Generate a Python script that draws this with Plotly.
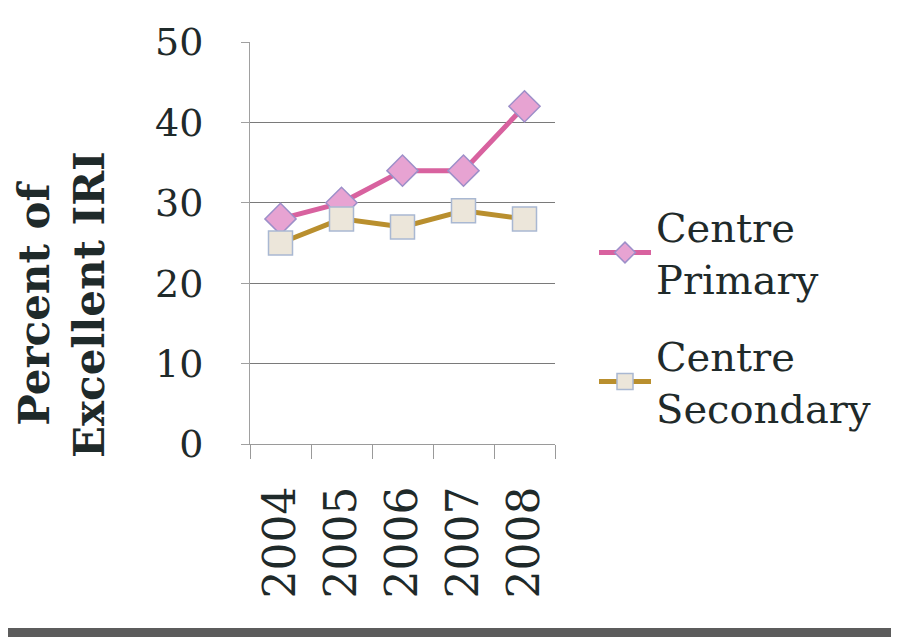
import plotly.graph_objects as go

years = ["2004", "2005", "2006", "2007", "2008"]
primary = [28, 30, 34, 34, 42]
secondary = [25, 28, 27, 29, 28]
y_ticks = [0, 10, 20, 30, 40, 50]

SERIF = "'DejaVu Serif', 'Liberation Serif', serif"
INK = "#1f2a2a"

fig = go.Figure()
fig.add_trace(go.Scatter(
    x=years, y=primary, name="Centre<br>Primary", mode="lines+markers",
    legendgroup="p",
    line=dict(color="#d8629f", width=5),
    marker=dict(symbol="diamond", size=24, color="#e7a3d2",
                line=dict(color="#9d8fc9", width=1.5)),
))
fig.add_trace(go.Scatter(
    x=years, y=secondary, name="Centre<br>Secondary", mode="lines+markers",
    legendgroup="s",
    line=dict(color="#b98f2e", width=5),
    marker=dict(symbol="square", size=24, color="#ece6da",
                line=dict(color="#a9b8d2", width=1.5)),
))

# figure sits 8px in from the page corner (body margin)
W, H = 891, 629
L, T = 242, 34
R = W - (555 - 8)
B = H - (444 - 8)
pw = W - L - R
ph = H - T - B

def px_x(x):
    return (x - 8 - L) / pw

def px_y(y):
    return (H - B - (y - 8)) / ph

fig.update_layout(
    width=W, height=H,
    margin=dict(l=L, r=R, t=T, b=B),
    paper_bgcolor="#ffffff", plot_bgcolor="#ffffff",
    font=dict(family=SERIF, color=INK),
    showlegend=True,
    legend=dict(x=px_x(594), y=px_y(194), xanchor="left", yanchor="top",
                font=dict(size=40, family=SERIF, color=INK),
                bgcolor="rgba(0,0,0,0)", tracegroupgap=22,
                traceorder="grouped", itemwidth=52),
    xaxis=dict(type="category", tickangle=-90, tickfont=dict(size=44, family=SERIF, color=INK),
               showgrid=False, showline=True, linecolor="#9a9a9a", linewidth=1,
               ticks="outside", tickson="boundaries", ticklen=14, tickcolor="#9a9a9a",
               range=[-0.5, 4.5], ticklabelstandoff=24),
    yaxis=dict(range=[0, 50], tickvals=y_ticks, tickfont=dict(size=38, family=SERIF, color=INK),
               showgrid=True, gridcolor="#7a7a7a", gridwidth=1,
               showline=True, linecolor="#a0a0a0", linewidth=1,
               ticks="outside", ticklen=8, tickcolor="#a0a0a0",
               zeroline=False, ticklabelstandoff=30),
    annotations=[dict(
        text="<b>Percent of<br>Excellent IRI</b>", textangle=-90,
        xref="paper", yref="paper", x=px_x(62), y=px_y(305),
        xanchor="center", yanchor="middle",
        showarrow=False, font=dict(size=42, family=SERIF, color=INK),
    )],
    shapes=[
        dict(type="rect", xref="paper", yref="paper",
             x0=-L / pw, x1=(pw + R) / pw, y0=-B / ph, y1=px_y(628),
             fillcolor="#5c5c5c", line=dict(width=0), layer="below"),
    ],
)

fig.write_html("out.html")
